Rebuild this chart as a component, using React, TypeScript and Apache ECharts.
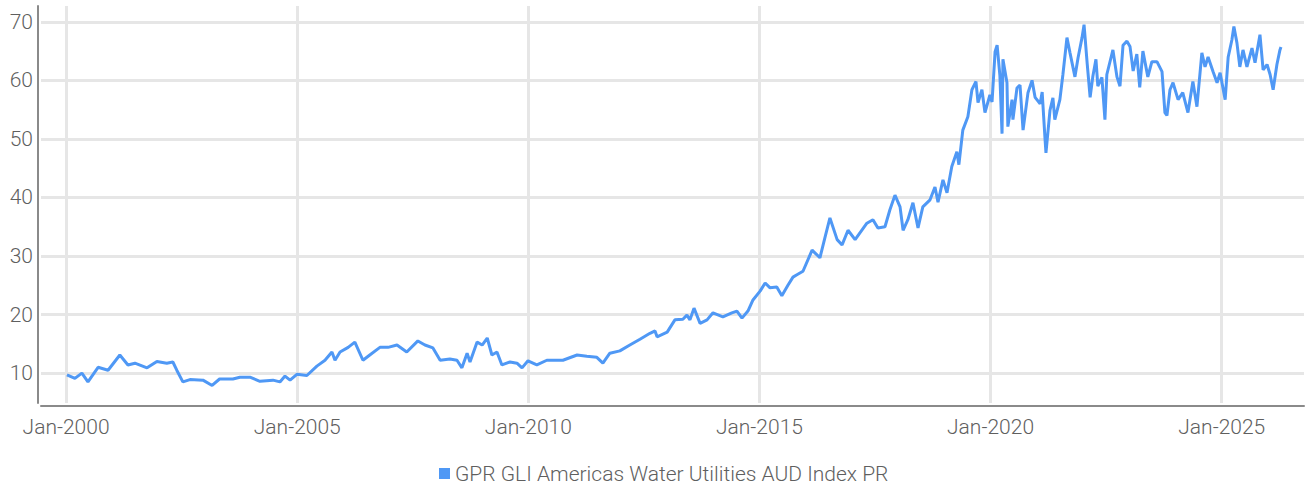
import React, { useEffect, useRef } from "react";
import * as echarts from "echarts";

const seriesName = "GPR GLI Americas Water Utilities AUD Index PR";

const dates: string[] = [
  "2000-01-08","2000-03-11","2000-05-05","2000-06-22","2000-09-10","2000-11-28",
  "2001-03-01","2001-05-04","2001-06-28","2001-10-02","2001-12-19",
  "2002-03-07","2002-04-24","2002-05-25","2002-07-12","2002-09-06","2002-12-18",
  "2003-02-28","2003-04-28","2003-08-11","2003-10-06","2003-12-24",
  "2004-03-12","2004-06-23","2004-08-17","2004-09-26","2004-11-05","2004-12-29",
  "2005-03-18","2005-06-05","2005-08-08","2005-10-02","2005-10-26","2005-12-05",
  "2006-02-07","2006-04-01","2006-06-04","2006-07-28","2006-10-16","2006-12-19",
  "2007-02-28","2007-05-16","2007-08-12","2007-10-07","2007-12-09",
  "2008-02-04","2008-04-21","2008-06-16","2008-07-25","2008-09-04","2008-09-27","2008-11-22",
  "2009-01-01","2009-02-10","2009-03-19","2009-04-28","2009-06-06","2009-08-09","2009-10-03","2009-11-12","2009-12-29",
  "2010-03-09","2010-05-27","2010-10-01",
  "2011-01-21","2011-04-08","2011-06-26","2011-08-13","2011-10-07","2011-12-25",
  "2012-03-13","2012-06-01","2012-08-19","2012-09-28","2012-10-14",
  "2013-01-02","2013-03-04","2013-05-06","2013-06-07","2013-07-01","2013-08-02","2013-09-19","2013-11-13","2013-12-30",
  "2014-03-18","2014-05-28","2014-07-07","2014-08-16","2014-10-02","2014-11-11",
  "2015-01-06","2015-02-15","2015-03-24","2015-05-18","2015-06-27","2015-08-14","2015-09-23","2015-10-24","2015-12-11",
  "2016-02-21","2016-04-23","2016-06-02","2016-07-11","2016-09-06","2016-10-15","2016-12-01",
  "2017-01-26","2017-04-29","2017-06-16","2017-07-25","2017-09-19","2017-10-28","2017-12-07",
  "2018-01-16","2018-02-09","2018-03-19","2018-04-28","2018-06-07","2018-07-15","2018-09-10","2018-10-19","2018-11-12","2018-12-21",
  "2019-01-22","2019-03-01","2019-04-10","2019-04-26","2019-05-27","2019-07-06","2019-08-07","2019-09-08","2019-09-24","2019-10-25","2019-11-18","2019-12-27",
  "2020-01-13","2020-02-06","2020-02-22","2020-03-15","2020-04-01","2020-04-08","2020-05-10","2020-05-17","2020-06-19","2020-06-26","2020-07-28","2020-08-21","2020-09-14","2020-10-23","2020-11-24","2020-12-18",
  "2021-01-27","2021-02-12","2021-03-06","2021-03-14","2021-04-15","2021-05-08","2021-05-23","2021-07-02","2021-07-26","2021-08-27","2021-09-20","2021-10-29","2021-11-23","2021-12-24",
  "2022-01-09","2022-02-03","2022-02-26","2022-03-19","2022-04-13","2022-04-28","2022-05-30","2022-06-23","2022-07-08","2022-08-17","2022-08-25","2022-09-26","2022-10-20","2022-11-13","2022-12-14",
  "2023-01-07","2023-02-01","2023-03-02","2023-03-25","2023-04-19","2023-05-28","2023-06-29","2023-08-08","2023-09-17","2023-10-10","2023-10-26","2023-11-19","2023-12-13",
  "2024-01-22","2024-02-28","2024-04-09","2024-05-18","2024-06-19","2024-07-28","2024-08-22","2024-09-15","2024-10-24","2024-11-25","2024-12-19",
  "2025-01-28","2025-02-21","2025-03-22","2025-04-07","2025-05-01","2025-05-24","2025-06-18","2025-07-19","2025-08-28","2025-09-21","2025-10-30","2025-11-24","2025-12-25",
  "2026-01-18","2026-02-11","2026-03-13","2026-04-06","2026-04-14"
];

const values: number[] = [
  9.7, 9.1, 10.0, 8.5, 11.0, 10.5,
  13.1, 11.4, 11.7, 10.9, 12.0,
  11.7, 11.9, 10.5, 8.5, 8.9, 8.8,
  7.9, 9.0, 9.0, 9.3, 9.3,
  8.6, 8.8, 8.5, 9.5, 8.8, 9.8,
  9.6, 11.2, 12.2, 13.6, 12.2, 13.6,
  14.4, 15.3, 12.2, 13.1, 14.4, 14.4,
  14.8, 13.6, 15.5, 14.8, 14.3,
  12.2, 12.4, 12.2, 10.9, 13.4, 11.9, 15.3,
  14.8, 16.0, 13.1, 13.6, 11.4, 11.9, 11.7, 10.9, 12.1,
  11.4, 12.2, 12.2,
  13.1, 12.9, 12.7, 11.7, 13.4, 13.8,
  14.8, 15.8, 16.8, 17.2, 16.2,
  17.0, 19.1, 19.2, 19.9, 19.1, 21.1, 18.5, 19.1, 20.3,
  19.6, 20.3, 20.6, 19.4, 20.6, 22.5,
  24.0, 25.4, 24.6, 24.7, 23.2, 25.0, 26.4, 26.8, 27.4,
  31.0, 29.7, 33.2, 36.5, 32.8, 31.9, 34.4,
  32.8, 35.6, 36.2, 34.8, 35.0, 37.9, 40.4,
  38.4, 34.4, 36.2, 39.1, 34.8, 38.4, 39.6, 41.8, 39.2, 43.0,
  40.8, 45.3, 47.8, 45.6, 51.5, 53.8, 58.4, 59.8, 56.2, 58.4, 54.5, 57.5,
  56.3, 64.9, 66.0, 60.8, 50.9, 63.6, 59.6, 52.1, 56.7, 53.3, 58.7, 59.2, 51.5, 57.9, 60.0, 57.1,
  56.0, 58.0, 50.2, 47.6, 54.9, 57.0, 53.3, 56.7, 61.0, 67.3, 64.7, 60.6, 63.9, 67.3,
  69.5, 62.8, 57.1, 60.6, 63.6, 59.0, 60.5, 53.3, 61.0, 64.5, 65.2, 60.6, 59.0, 66.0, 66.7,
  65.8, 61.6, 64.5, 58.8, 65.0, 60.6, 63.2, 63.2, 61.5, 54.5, 54.0, 58.4, 59.6,
  56.7, 57.9, 54.5, 59.8, 55.5, 64.7, 62.3, 64.0, 61.5, 59.6, 61.3,
  56.7, 64.0, 66.9, 69.2, 66.4, 62.3, 65.2, 62.3, 65.5, 63.0, 67.8, 61.8, 62.7,
  61.0, 58.4, 62.7, 65.2, 65.7
];

const tickYears: number[] = [2000, 2005, 2010, 2015, 2020, 2025];
const yTicks: number[] = [10, 20, 30, 40, 50, 60, 70];

const FONT = "Roboto";
const TEXT_COLOR = "#5f5f5f";
const LINE_COLOR = "#4f98f5";
const GRID_COLOR = "#e6e6e6";
const AXIS_COLOR = "#8a8a8a";

export default function App() {
  const ref = useRef<HTMLDivElement>(null);
  useEffect(() => {
    if (!ref.current) return;
    const chart = echarts.init(ref.current, undefined, { renderer: "svg" });
    const data = dates.map((d, i) => [Date.parse(d), values[i]]);
    const tickTimes = tickYears.map((y) => Date.UTC(y, 0, 1));
    chart.setOption({
      animation: false,
      backgroundColor: "#ffffff",
      textStyle: { fontFamily: FONT },
      grid: { left: 41, right: 2, top: 6, bottom: 88, containLabel: false },
      legend: {
        show: true,
        left: 439,
        top: 463,
        padding: 0,
        icon: "rect",
        itemWidth: 11,
        itemHeight: 11,
        itemGap: 10,
        textStyle: { fontFamily: FONT, fontWeight: 300, fontSize: 21, color: TEXT_COLOR },
        data: [seriesName],
      },
      xAxis: {
        type: "value",
        min: Date.UTC(1999, 5, 17),
        max: Date.UTC(2026, 9, 13),
        offset: 3,
        axisLine: { show: true, lineStyle: { color: AXIS_COLOR, width: 2 } },
        axisTick: { show: false, customValues: tickTimes },
        axisLabel: {
          customValues: tickTimes,
          margin: 10,
          fontFamily: FONT,
          fontWeight: 300,
          fontSize: 21,
          color: TEXT_COLOR,
          formatter: (v: number) => "Jan-" + new Date(v).getUTCFullYear(),
        },
        splitLine: { show: true, lineStyle: { color: GRID_COLOR, width: 3 } },
      },
      yAxis: {
        type: "value",
        min: 4.9,
        max: 72.7,
        offset: 3,
        axisLine: { show: true, lineStyle: { color: AXIS_COLOR, width: 2 } },
        axisTick: { show: false, customValues: yTicks },
        axisLabel: {
          customValues: yTicks,
          margin: 5,
          fontFamily: FONT,
          fontWeight: 300,
          fontSize: 21,
          color: TEXT_COLOR,
        },
        splitLine: { show: true, lineStyle: { color: GRID_COLOR, width: 3 } },
      },
      series: [
        {
          name: seriesName,
          type: "line",
          data,
          showSymbol: false,
          symbol: "none",
          lineStyle: { color: LINE_COLOR, width: 3 },
          itemStyle: { color: LINE_COLOR },
        },
      ],
    });
    return () => chart.dispose();
  }, []);
  return (
    <div
      ref={ref}
      style={{ position: "fixed", left: 0, top: 0, width: 1306, height: 491 }}
    />
  );
}
